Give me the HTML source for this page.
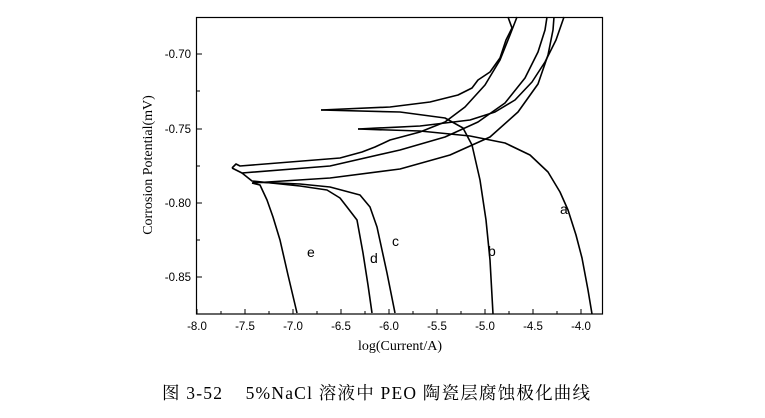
<!DOCTYPE html>
<html><head><meta charset="utf-8"><style>
html,body{margin:0;padding:0;background:#fff;}
svg{display:block;}
</style></head><body>
<svg width="765" height="418" xmlns="http://www.w3.org/2000/svg">
<rect width="765" height="418" fill="#fff"/>
<g fill="none" stroke="#000" stroke-width="1.6" stroke-linejoin="round">
<path d="M358,129 L420,131 L470,136 L505,143 L530,155 L548,172 L560,192 L568,210 L576,235 L582,258 L588,290 L592,314"/>
<path d="M358,129 L420,126 L470,120 L495,112 L515,100 L532,82 L545,62 L556,40 L564,17"/>
<path d="M321,110 L400,112 L445,118 L463,128 L472,145 L480,180 L486,220 L490,260 L493,314"/>
<path d="M321,110 L390,107 L430,102 L458,95 L472,88 L478,80 L490,72 L500,58 L506,40 L512,28 L508,17"/>
<path d="M232,168 L236,164 L240,166 L290,162 L340,158 L362,152 L375,147 L390,140 L420,132 L445,122 L465,107 L485,85 L500,60 L510,35 L517,17"/>
<path d="M252,183 L260,185 L267,200 L273,217 L280,240 L288,275 L297,313"/>
<path d="M232,168 L242,173 L330,166 L400,150 L445,137 L478,122 L505,103 L525,78 L538,52 L545,30 L547,17"/>
<path d="M242,173 L252,181 L300,186 L327,190 L340,198 L347,207 L357,220 L363,253 L368,285 L372,313"/>
<path d="M252,183 L330,178 L400,169 L450,155 L490,137 L518,112 L538,84 L548,55 L553,30 L554,17"/>
<path d="M253,182 L300,184 L330,187 L360,195 L370,207 L377,227 L382,250 L387,273 L395,313"/>
</g>
<rect x="196.5" y="17.5" width="406" height="296.5" fill="none" stroke="#000" stroke-width="1.2"/>
<g stroke="#000" stroke-width="1">
<line x1="197" y1="314" x2="197" y2="309"/><line x1="221" y1="314" x2="221" y2="311"/>
<line x1="245" y1="314" x2="245" y2="309"/><line x1="269" y1="314" x2="269" y2="311"/>
<line x1="293" y1="314" x2="293" y2="309"/><line x1="317" y1="314" x2="317" y2="311"/>
<line x1="341" y1="314" x2="341" y2="309"/><line x1="365" y1="314" x2="365" y2="311"/>
<line x1="389" y1="314" x2="389" y2="309"/><line x1="413" y1="314" x2="413" y2="311"/>
<line x1="437" y1="314" x2="437" y2="309"/><line x1="461" y1="314" x2="461" y2="311"/>
<line x1="485" y1="314" x2="485" y2="309"/><line x1="509" y1="314" x2="509" y2="311"/>
<line x1="533" y1="314" x2="533" y2="309"/><line x1="557" y1="314" x2="557" y2="311"/>
<line x1="581" y1="314" x2="581" y2="309"/>
<line x1="197" y1="54" x2="202" y2="54"/><line x1="197" y1="91" x2="200" y2="91"/>
<line x1="197" y1="129" x2="202" y2="129"/><line x1="197" y1="166" x2="200" y2="166"/>
<line x1="197" y1="203" x2="202" y2="203"/><line x1="197" y1="240" x2="200" y2="240"/>
<line x1="197" y1="277" x2="202" y2="277"/>
</g>
<g font-family="Liberation Sans, sans-serif" font-size="11.5" fill="#000" text-anchor="middle">
<text x="197" y="330">-8.0</text><text x="245" y="330">-7.5</text><text x="293" y="330">-7.0</text>
<text x="341" y="330">-6.5</text><text x="389" y="330">-6.0</text><text x="437" y="330">-5.5</text>
<text x="485" y="330">-5.0</text><text x="533" y="330">-4.5</text><text x="581" y="330">-4.0</text>
</g>
<g font-family="Liberation Sans, sans-serif" font-size="11.5" fill="#000" text-anchor="end">
<text x="191" y="58">-0.70</text><text x="191" y="133">-0.75</text>
<text x="191" y="207">-0.80</text><text x="191" y="281">-0.85</text>
</g>
<text x="400" y="350" font-family="Liberation Serif, serif" font-size="14" text-anchor="middle">log(Current/A)</text>
<text transform="translate(152,165) rotate(-90)" font-family="Liberation Serif, serif" font-size="14" text-anchor="middle">Corrosion Potential(mV)</text>
<g font-family="Liberation Sans, sans-serif" font-size="14" fill="#000">
<text x="560" y="214">a</text><text x="488" y="256">b</text><text x="392" y="246">c</text>
<text x="370" y="263">d</text><text x="307" y="257">e</text>
</g>
<text x="162" y="399" font-family="Liberation Serif, 'Noto Serif CJK SC', serif" font-size="17.5" xml:space="preserve" textLength="428" lengthAdjust="spacing">图 3-52    5%NaCl 溶液中 PEO 陶瓷层腐蚀极化曲线</text>
</svg>
</body></html>
